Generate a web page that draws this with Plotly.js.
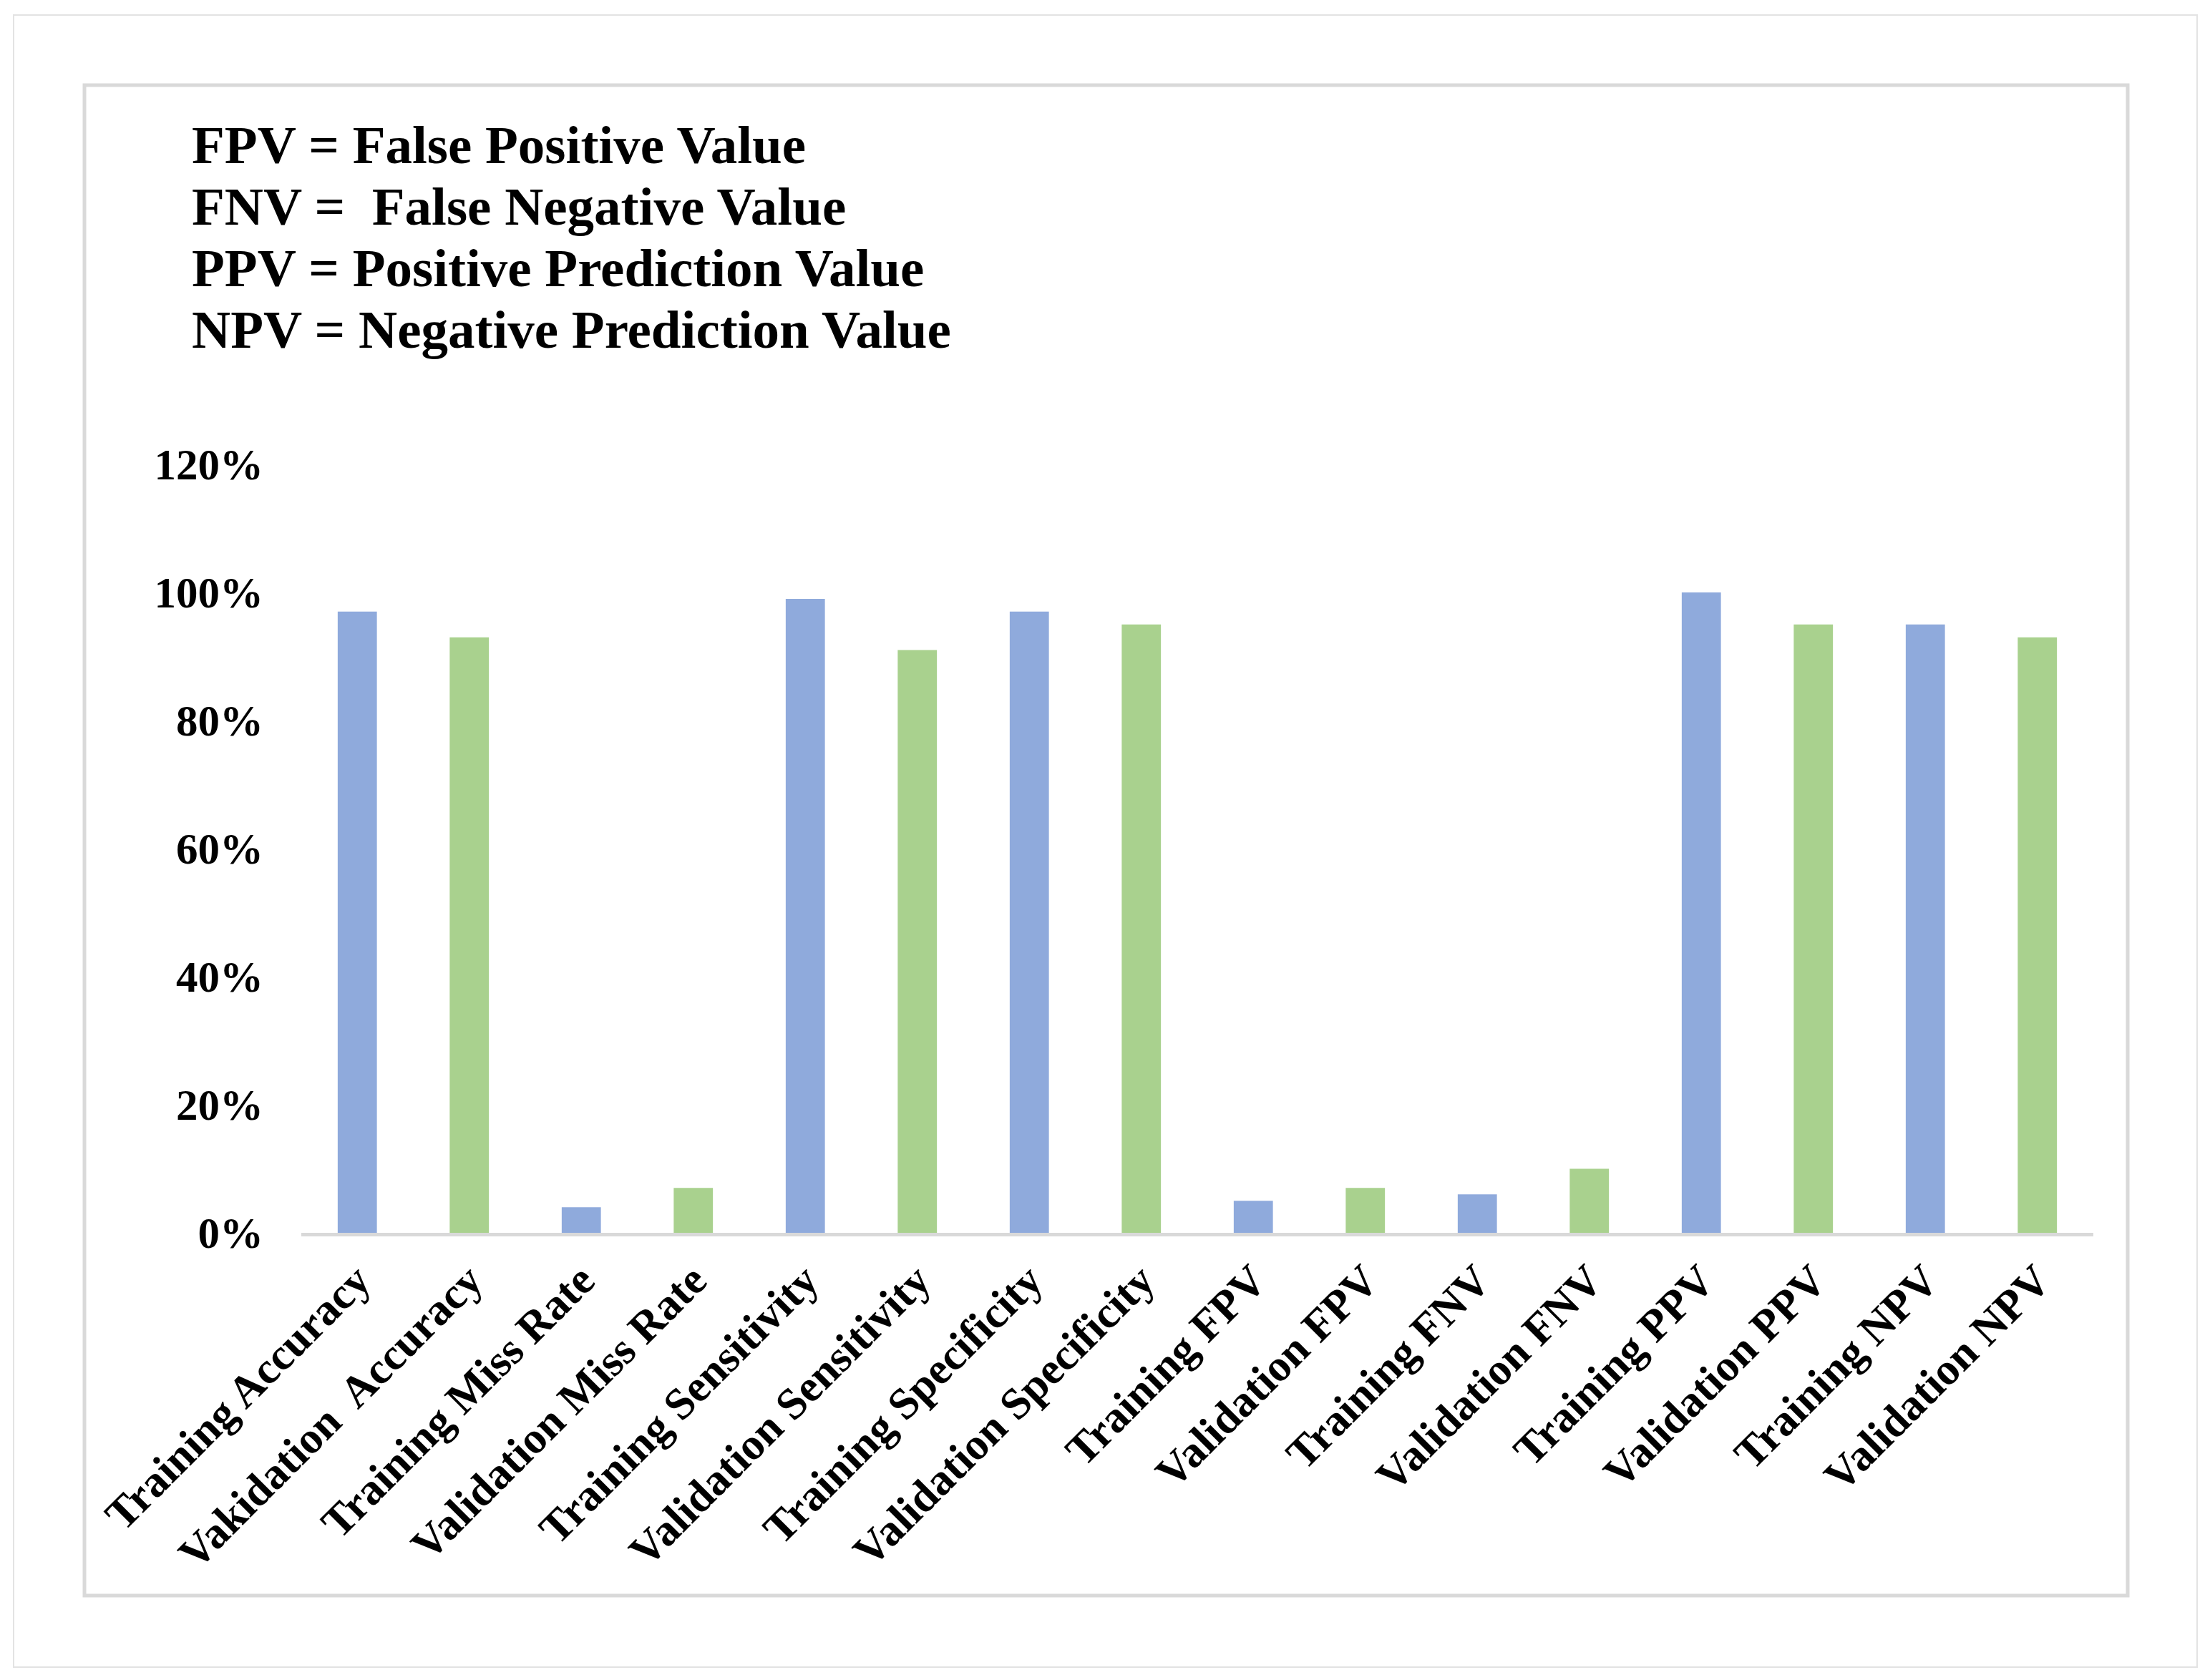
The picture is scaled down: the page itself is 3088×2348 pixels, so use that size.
<!DOCTYPE html>
<html>
<head>
<meta charset="utf-8">
<script src="https://cdn.plot.ly/plotly-3.0.1.min.js"></script>
<style>html,body{margin:0;padding:0;background:#fff;}#chart{width:3088px;height:2348px;}</style>
</head>
<body>
<div id="chart"></div>
<script>
// ---- data ----
const categories = [
  "Training Accuracy", "Vakidation\u00a0 Accuracy", "Training Miss Rate", "Validation Miss Rate",
  "Training Sensitivity", "Validation Sensitivity", "Training Specificity", "Validation Specificity",
  "Training FPV", "Validation FPV", "Training FNV", "Validation FNV",
  "Training PPV", "Validation PPV", "Training NPV", "Validation NPV"
];
const values = [0.97, 0.93, 0.04, 0.07, 0.99, 0.91, 0.97, 0.95, 0.05, 0.07, 0.06, 0.10, 1.00, 0.95, 0.95, 0.93];
const seriesKind = ["Training","Validation","Training","Validation","Training","Validation","Training","Validation",
                    "Training","Validation","Training","Validation","Training","Validation","Training","Validation"];
const legendLines = [
  "FPV = False Positive Value",
  "FNV =\u00a0 False Negative Value",
  "PPV = Positive Prediction Value",
  "NPV = Negative Prediction Value"
];

// ---- styles / layout ----
const W = 3088, H = 2348;
const PL = 421, PR = 2925, PT = 649, PB = 1723;
const colorMap = {Training: "#8FAADC", Validation: "#A9D18E"};
const FONT = '"Liberation Serif", "Times New Roman", serif';
const px2x = p => (p - PL) / (PR - PL);
const px2y = p => (PB - p) / (PB - PT);

const trace = {
  type: "bar",
  x: categories,
  y: values,
  marker: {color: seriesKind.map(k => colorMap[k])},
  hoverinfo: "skip"
};

const lineCenters = [203, 289, 374, 460];
const annotations = legendLines.map((t, i) => ({
  xref: "paper", yref: "paper",
  x: px2x(266), y: px2y(lineCenters[i]),
  xanchor: "left", yanchor: "middle",
  text: t, showarrow: false,
  font: {family: FONT, size: 75, color: "#000", weight: "bold"}
}));

const shapes = [
  {type: "rect", xref: "paper", yref: "paper",
   x0: px2x(19), x1: px2x(3070), y0: px2y(2330), y1: px2y(21),
   line: {color: "#e3e3e3", width: 2}, fillcolor: "rgba(0,0,0,0)", layer: "below"},
  {type: "rect", xref: "paper", yref: "paper",
   x0: px2x(118), x1: px2x(2973), y0: px2y(2230), y1: px2y(119),
   line: {color: "#d9d9d9", width: 5}, fillcolor: "rgba(0,0,0,0)", layer: "below"}
];

const layout = {
  width: W, height: H,
  margin: {l: PL, r: W - PR, t: PT, b: H - PB, pad: 0},
  paper_bgcolor: "#ffffff", plot_bgcolor: "#ffffff",
  showlegend: false,
  bargap: 0.65,
  xaxis: {
    type: "category",
    showgrid: false, zeroline: false,
    showline: true, linecolor: "#d9d9d9", linewidth: 5,
    ticks: "", tickangle: -45,
    tickfont: {family: FONT, size: 62, color: "#000", weight: "bold"},
    automargin: false
  },
  yaxis: {
    range: [0, 1.2], dtick: 0.2, tick0: 0,
    tickformat: ".0%",
    showgrid: false, zeroline: false, showline: false,
    ticks: "", ticklabelstandoff: 52,
    tickfont: {family: FONT, size: 61, color: "#000", weight: "bold"},
    automargin: false
  },
  annotations: annotations,
  shapes: shapes
};

Plotly.newPlot("chart", [trace], layout, {displayModeBar: false, staticPlot: true});
</script>
</body>
</html>
